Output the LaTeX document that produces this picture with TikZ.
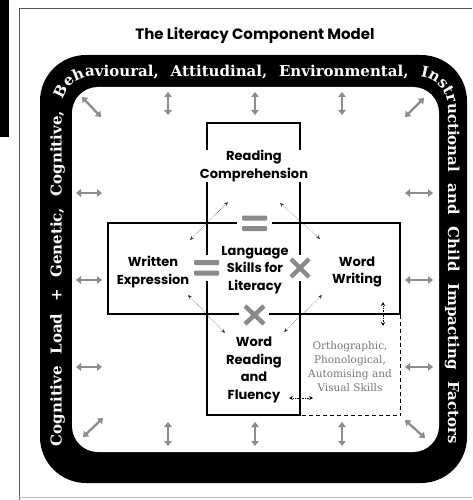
\documentclass[tikz,border=0pt]{standalone}
\usepackage{fontspec}
\setmainfont{Poppins}
\newfontfamily\ringfont{DejaVu Serif}
\newfontfamily\skillfont{DejaVu Serif}
\usetikzlibrary{decorations.text,arrows.meta}
\definecolor{arrowgray}{HTML}{8C8C8C}
\definecolor{symgray}{HTML}{8A8A8A}
\definecolor{skillgray}{HTML}{767676}
\definecolor{framegray}{HTML}{5A5A5A}
\tikzset{
  boxrect/.style={draw=black, line width=1.2pt, inner sep=0pt},
  lbl/.style={font=\bfseries\fontsize{13}{17.5}\selectfont, align=center, inner sep=1pt},
  garrow/.style={arrowgray, line width=2.3pt, {Triangle[width=7.5pt,length=5pt]}-{Triangle[width=7.5pt,length=5pt]}},
  thinarrow/.style={black!75, line width=0.5pt, densely dotted, {Stealth[length=4pt,width=3.5pt]}-{Stealth[length=4pt,width=3.5pt]}},
  dotarrow/.style={black, line width=0.7pt, densely dotted, {Stealth[length=4pt,width=4pt]}-{Stealth[length=4pt,width=4pt]}},
  symbar/.style={fill=symgray, draw=none},
  symx/.style={symgray, line width=4.5pt},
}
\begin{document}
\begin{tikzpicture}[x=1pt,y=-1pt]
\useasboundingbox (0,0) rectangle (472,500);
\fill[white] (0,0) rectangle (472,500);
% crop remnant and frame
\fill[black] (0,0) rectangle (9,137);
\draw[framegray, line width=0.8pt] (19,500) -- (19,8) -- (472,8);
\draw[black!25, line width=0.6pt] (19,497) -- (472,497);
% title
\node[font=\bfseries\fontsize{15}{18}\selectfont] (title) at (255,35) {The Literacy Component Model};
% ring
\fill[black, rounded corners=46pt] (40,55) rectangle (467,483);
\fill[white, rounded corners=26pt] (72,87) rectangle (439,452);
\path[decorate, decoration={text along path,
   text={|\ringfont\bfseries\fontsize{15}{15}\selectfont|Cognitive Load + Genetic, Cognitive, Behavioural, Attitudinal, Environmental, Instructional and Child Impacting Factors},
   text color=white, text align={fit to path stretching spaces}}]
   [rounded corners=31pt] (61.5,446) -- (61.5,76.5) -- (448,76.5) -- (448,444);
% cross boxes
\node[boxrect, minimum width=93pt, minimum height=292pt] (vrect) at (253.5,269) {};
\node[boxrect, minimum width=292pt, minimum height=91pt] (hrect) at (254,268.5) {};
% dashed box
\draw[black, line width=1pt, dash pattern=on 4pt off 3pt] (hrect.south east) -- (hrect.east |- vrect.south) -- (vrect.south east);
% symbols
\fill[white] (237,219) rectangle (272,228);
\fill[symbar, rounded corners=1pt] (242,215.5) rectangle (267,220.5);
\fill[symbar, rounded corners=1pt] (242,226) rectangle (267,231);
\fill[white] (203,255) rectangle (212,281);
\fill[symbar, rounded corners=1pt] (194,260) rectangle (219,265);
\fill[symbar, rounded corners=1pt] (194,270.5) rectangle (219,275.5);
\fill[white] (296,255) rectangle (305,281);
\draw[symx] (291,259) -- (309,277) (291,277) -- (309,259);
\fill[white] (239,310) rectangle (269,319);
\draw[symx] (245,306) -- (264,324) (245,324) -- (264,306);
% labels
\node[lbl, fill=white, inner sep=0.5pt] (rc) at (254,166) {Reading\\Comprehension};
\node[lbl] (we) at (153,272) {Written\\Expression};
\node[lbl] (ls) at (255,270) {Language\\Skills for\\Literacy};
\node[lbl] (ww) at (357,272) {Word\\Writing};
\node[lbl] (wrf) at (254,370) {Word\\Reading\\and\\Fluency};
\node[font=\skillfont\fontsize{10.5}{14}\selectfont, text=skillgray, align=center] (sk) at (350,367) {Orthographic,\\Phonological,\\Automising and\\Visual Skills};
% thin diagonal arrows
\coordinate (d1a) at (190,240); \coordinate (d1b) at (228,202);
\coordinate (d2a) at (280,203); \coordinate (d2b) at (320,239);
\coordinate (d3a) at (188,295); \coordinate (d3b) at (225,333);
\coordinate (d4a) at (284,332); \coordinate (d4b) at (322,295);
\draw[thinarrow] (d1a) -- (d1b);
\draw[thinarrow] (d2a) -- (d2b);
\draw[thinarrow] (d3a) -- (d3b);
\draw[thinarrow] (d4a) -- (d4b);
% dotted arrows
\coordinate (fa) at (289,398); \coordinate (fb) at (313,398);
\draw[dotarrow] (fa) -- (fb);
\coordinate (va) at (383,302); \coordinate (vb) at (383,326);
\draw[dotarrow] (va) -- (vb);
% gray arrows around ring
\foreach \x in {168,255,342} {
  \coordinate (t\x a) at (\x,92); \coordinate (t\x b) at (\x,115);
  \draw[garrow] (t\x a) -- (t\x b);
  \coordinate (b\x a) at (\x,422); \coordinate (b\x b) at (\x,446);
  \draw[garrow] (b\x a) -- (b\x b);
}
\foreach \y in {193,280,367} {
  \coordinate (l\y a) at (76,\y); \coordinate (l\y b) at (102,\y);
  \draw[garrow] (l\y a) -- (l\y b);
  \coordinate (r\y a) at (405,\y); \coordinate (r\y b) at (433,\y);
  \draw[garrow] (r\y a) -- (r\y b);
}
\coordinate (c1a) at (82,97); \coordinate (c1b) at (101,117);
\coordinate (c2a) at (405,117); \coordinate (c2b) at (424,98);
\coordinate (c3a) at (83,437); \coordinate (c3b) at (103,418);
\coordinate (c4a) at (405,420); \coordinate (c4b) at (425,438);
\draw[garrow] (c1a) -- (c1b);
\draw[garrow] (c2a) -- (c2b);
\draw[garrow] (c3a) -- (c3b);
\draw[garrow] (c4a) -- (c4b);
\end{tikzpicture}
\end{document}
